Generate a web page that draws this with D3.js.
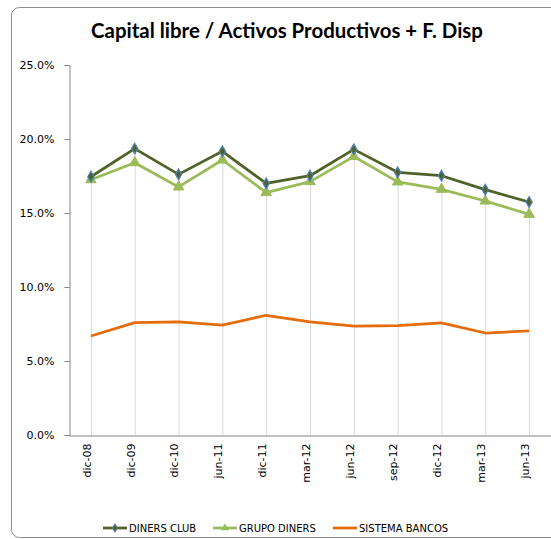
<!DOCTYPE html>
<html><head><meta charset="utf-8">
<script src="https://cdn.jsdelivr.net/npm/d3@7"></script>
<style>
html,body{margin:0;padding:0;background:#fff;}
svg{display:block;}
</style></head>
<body>
<svg id="chart" width="551" height="539"></svg>
<script>
const categories = ["dic-08","dic-09","dic-10","jun-11","dic-11","mar-12","jun-12","sep-12","dic-12","mar-13","jun-13"];
const dinersClub = [17.45,19.35,17.61,19.17,17.0,17.52,19.30,17.75,17.52,16.58,15.74];
const grupoDiners = [17.25,18.4,16.76,18.58,16.38,17.12,18.82,17.1,16.6,15.81,14.91];
const sistemaBancos = [6.69,7.59,7.64,7.43,8.09,7.64,7.36,7.39,7.57,6.89,7.03];
const yTicks = [0,5,10,15,20,25];
const titleText = "Capital libre / Activos Productivos + F. Disp";
const seriesNames = ["DINERS CLUB","GRUPO DINERS","SISTEMA BANCOS"];

const svg = d3.select("#chart");
const font = "'DejaVu Sans', Verdana, sans-serif";

// outer chart border
svg.append("rect").attr("x",11.5).attr("y",7.5).attr("width",600).attr("height",530)
  .attr("rx",8).attr("fill","#fff").attr("stroke","#8c8c8c").attr("stroke-width",1);

const mLeft = 69, mTop = 65, mBottom = 435, mRight = 551;
const x = d3.scaleBand().domain(categories).range([mLeft, mRight]);
const y = d3.scaleLinear().domain([0,25]).range([mBottom, mTop]);
const cx = d => x(d) + x.bandwidth()/2;

// title
const t = svg.append("text").attr("x",287).attr("y",38).attr("text-anchor","middle")
  .attr("font-family","Lato, 'Open Sans', sans-serif").attr("font-weight","bold")
  .attr("font-size",20).attr("fill","#000").text(titleText);
const w = t.node().getComputedTextLength();
t.attr("font-size", 20*392/w);

// drop lines
svg.append("g").selectAll("line").data(categories).join("line")
  .attr("x1",d=>cx(d)+0.5).attr("x2",d=>cx(d)+0.5)
  .attr("y1",(d,i)=>y(Math.max(dinersClub[i],grupoDiners[i])))
  .attr("y2",y(0))
  .attr("stroke","#d9d9d9").attr("stroke-width",1);

// y axis
const yAxis = svg.append("g").attr("transform",`translate(${mLeft+0.5},0)`)
  .call(d3.axisLeft(y).tickValues(yTicks).tickSize(5).tickPadding(10).tickFormat(d=>d.toFixed(1)+"%"));
yAxis.select(".domain").attr("stroke","#868686");
yAxis.selectAll(".tick line").attr("stroke","#868686");
yAxis.selectAll("text").attr("font-family",font).attr("font-size",11).attr("fill","#000");

// x axis
const xAxis = svg.append("g").attr("transform",`translate(0,${mBottom+0.5})`)
  .call(d3.axisBottom(x).tickSize(0).tickPadding(0));
xAxis.select(".domain").attr("stroke","#868686");
xAxis.selectAll(".tick text")
  .attr("font-family",font).attr("font-size",11).attr("fill","#000")
  .attr("text-anchor","end").attr("transform","rotate(-90)")
  .attr("x",-8).attr("y",-4).attr("dy","0.35em");

const line = d3.line().x((d,i)=>cx(categories[i])).y(d=>y(d));

// series lines
svg.append("path").datum(sistemaBancos).attr("d",line).attr("fill","none")
  .attr("stroke","#e46c0a").attr("stroke-width",2.75).attr("stroke-linejoin","round");
svg.append("path").datum(grupoDiners).attr("d",line).attr("fill","none")
  .attr("stroke","#9bbb59").attr("stroke-width",2.75).attr("stroke-linejoin","round");
svg.append("path").datum(dinersClub).attr("d",line).attr("fill","none")
  .attr("stroke","#4f6228").attr("stroke-width",2.75).attr("stroke-linejoin","round");

const tri = d3.symbol().type(d3.symbolTriangle).size(48);
const dia = d3.symbol().type(d3.symbolDiamond).size(34);

svg.append("g").selectAll("path").data(grupoDiners).join("path")
  .attr("d",tri()).attr("transform",(d,i)=>`translate(${cx(categories[i])},${y(d)})`)
  .attr("fill","#9bbb59").attr("stroke","#9bbb59").attr("stroke-width",1);
svg.append("g").selectAll("path").data(dinersClub).join("path")
  .attr("d",dia()).attr("transform",(d,i)=>`translate(${cx(categories[i])},${y(d)})`)
  .attr("fill","#4f6228").attr("stroke","#4f81bd").attr("stroke-width",1.2);

// legend
const legendItems = [
  {name:seriesNames[0], color:"#4f6228", x:103, marker:"dia"},
  {name:seriesNames[1], color:"#9bbb59", x:213, marker:"tri"},
  {name:seriesNames[2], color:"#e46c0a", x:333, marker:null}
];
const ly = 528;
const lg = svg.append("g");
legendItems.forEach(it=>{
  lg.append("line").attr("x1",it.x).attr("x2",it.x+24).attr("y1",ly).attr("y2",ly)
    .attr("stroke",it.color).attr("stroke-width",2.75);
  if(it.marker==="dia"){
    lg.append("path").attr("d",d3.symbol().type(d3.symbolDiamond).size(20)())
      .attr("transform",`translate(${it.x+12},${ly})`).attr("fill",it.color).attr("stroke","#4f81bd").attr("stroke-width",1);
  } else if(it.marker==="tri"){
    lg.append("path").attr("d",d3.symbol().type(d3.symbolTriangle).size(28)())
      .attr("transform",`translate(${it.x+12},${ly})`).attr("fill",it.color);
  }
  lg.append("text").attr("x",it.x+26).attr("y",ly).attr("dy","0.35em")
    .attr("font-family",font).attr("font-size",10).attr("fill","#000").text(it.name);
});
</script>
</body></html>
